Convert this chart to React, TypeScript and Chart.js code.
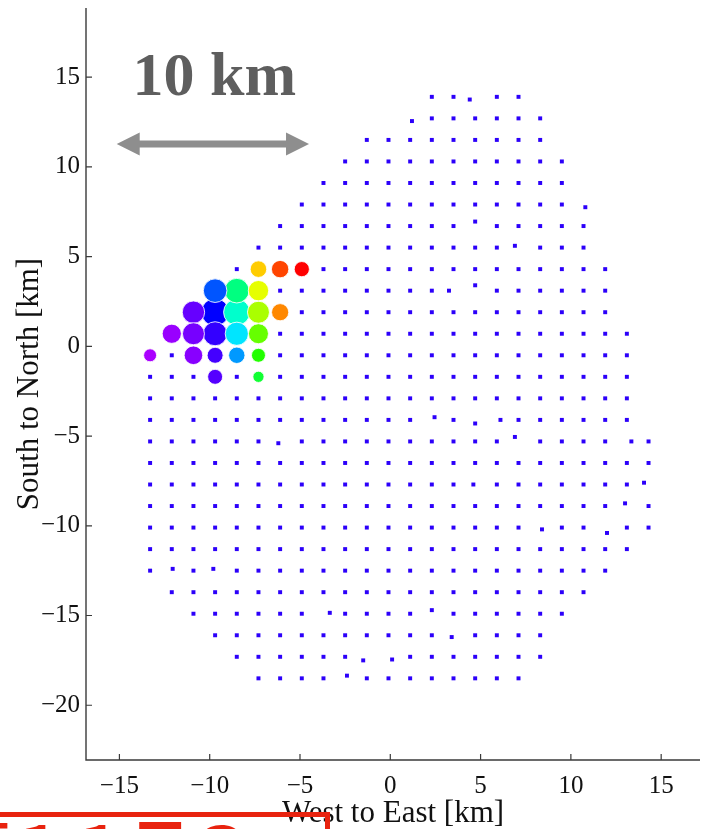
import React, { useEffect, useRef } from "react";
import { Chart, registerables } from "chart.js";

Chart.register(...registerables);

// ---------- axes ----------
const xTickValues = [-15, -10, -5, 0, 5, 10, 15];
const yTickValues = [-20, -15, -10, -5, 0, 5, 10, 15];
const xLimits = [-16.85, 17.15];
const yLimits = [-23.05, 18.85];
const xTitle = "West to East [km]";
const yTitle = "South to North [km]";

// ---------- station grid (small blue markers), one list per row ----------
const stationRowY = [
  13.9, 12.7, 11.5, 10.3, 9.1, 7.9, 6.7, 5.5, 4.3, 3.1, 1.9, 0.7, -0.5, -1.7, -2.9,
  -4.1, -5.3, -6.5, -7.7, -8.9, -10.1, -11.3, -12.5, -13.7, -14.9, -16.1, -17.3, -18.5,
];
const stationRowX = [
  [2.3, 3.5, 5.9, 7.1],
  [2.3, 3.5, 4.7, 5.9, 7.1, 8.3],
  [-1.3, -0.1, 1.1, 2.3, 3.5, 4.7, 5.9, 7.1, 8.3],
  [-2.5, -1.3, -0.1, 1.1, 2.3, 3.5, 4.7, 5.9, 7.1, 8.3, 9.5],
  [-3.7, -2.5, -1.3, -0.1, 1.1, 2.3, 3.5, 4.7, 5.9, 7.1, 8.3, 9.5],
  [-4.9, -3.7, -2.5, -1.3, -0.1, 1.1, 2.3, 3.5, 4.7, 5.9, 7.1, 8.3, 9.5],
  [-6.1, -4.9, -3.7, -2.5, -1.3, -0.1, 1.1, 2.3, 3.5, 5.9, 7.1, 8.3, 9.5, 10.7],
  [-7.3, -6.1, -4.9, -3.7, -2.5, -1.3, -0.1, 1.1, 2.3, 3.5, 4.7, 5.9, 8.3, 9.5, 10.7],
  [-8.5, -3.7, -2.5, -1.3, -0.1, 1.1, 2.3, 3.5, 4.7, 5.9, 7.1, 8.3, 9.5, 10.7, 11.9],
  [-6.1, -4.9, -3.7, -2.5, -1.3, -0.1, 1.1, 2.3, 5.9, 7.1, 8.3, 9.5, 10.7, 11.9],
  [-4.9, -3.7, -2.5, -1.3, -0.1, 1.1, 2.3, 3.5, 4.7, 5.9, 7.1, 8.3, 9.5, 10.7, 11.9],
  [-6.1, -4.9, -3.7, -2.5, -1.3, -0.1, 1.1, 2.3, 3.5, 4.7, 5.9, 7.1, 8.3, 9.5, 10.7, 11.9, 13.1],
  [-12.1, -6.1, -4.9, -3.7, -2.5, -1.3, -0.1, 1.1, 2.3, 3.5, 4.7, 5.9, 7.1, 8.3, 9.5, 10.7, 11.9, 13.1],
  [-13.3, -12.1, -10.9, -8.5, -6.1, -4.9, -3.7, -2.5, -1.3, -0.1, 1.1, 2.3, 3.5, 4.7, 5.9, 7.1, 8.3, 9.5, 10.7, 11.9, 13.1],
  [-13.3, -12.1, -10.9, -9.7, -8.5, -7.3, -6.1, -4.9, -3.7, -2.5, -1.3, -0.1, 1.1, 2.3, 3.5, 4.7, 5.9, 7.1, 8.3, 9.5, 10.7, 11.9, 13.1],
  [-13.3, -12.1, -10.9, -9.7, -8.5, -7.3, -6.1, -4.9, -3.7, -2.5, -1.3, -0.1, 1.1, 3.5, 7.1, 8.3, 9.5, 10.7, 11.9, 13.1],
  [-13.3, -12.1, -10.9, -9.7, -8.5, -7.3, -4.9, -3.7, -2.5, -1.3, -0.1, 1.1, 2.3, 3.5, 4.7, 5.9, 8.3, 9.5, 10.7, 11.9, 14.3],
  [-13.3, -12.1, -10.9, -9.7, -8.5, -7.3, -6.1, -4.9, -3.7, -2.5, -1.3, -0.1, 1.1, 2.3, 3.5, 4.7, 5.9, 7.1, 8.3, 9.5, 10.7, 11.9, 13.1, 14.3],
  [-13.3, -12.1, -10.9, -9.7, -8.5, -7.3, -6.1, -4.9, -3.7, -2.5, -1.3, -0.1, 1.1, 2.3, 3.5, 5.9, 7.1, 8.3, 9.5, 10.7, 11.9, 13.1],
  [-13.3, -12.1, -10.9, -9.7, -8.5, -7.3, -6.1, -4.9, -3.7, -2.5, -1.3, -0.1, 1.1, 2.3, 3.5, 4.7, 5.9, 7.1, 8.3, 9.5, 10.7, 11.9, 14.3],
  [-13.3, -12.1, -10.9, -9.7, -8.5, -7.3, -6.1, -4.9, -3.7, -2.5, -1.3, -0.1, 1.1, 2.3, 3.5, 4.7, 5.9, 7.1, 9.5, 10.7, 13.1, 14.3],
  [-13.3, -12.1, -10.9, -9.7, -8.5, -7.3, -6.1, -4.9, -3.7, -2.5, -1.3, -0.1, 1.1, 2.3, 3.5, 4.7, 5.9, 7.1, 8.3, 9.5, 10.7, 11.9, 13.1],
  [-13.3, -10.9, -8.5, -7.3, -6.1, -4.9, -3.7, -2.5, -1.3, -0.1, 1.1, 2.3, 3.5, 4.7, 5.9, 7.1, 8.3, 9.5, 10.7, 11.9],
  [-12.1, -10.9, -9.7, -8.5, -7.3, -6.1, -4.9, -3.7, -2.5, -1.3, -0.1, 1.1, 2.3, 3.5, 4.7, 5.9, 7.1, 8.3, 9.5, 10.7],
  [-10.9, -9.7, -8.5, -7.3, -6.1, -4.9, -2.5, -1.3, -0.1, 1.1, 3.5, 4.7, 5.9, 7.1, 8.3, 9.5],
  [-9.7, -8.5, -7.3, -6.1, -4.9, -3.7, -2.5, -1.3, -0.1, 1.1, 2.3, 4.7, 5.9, 7.1, 8.3],
  [-8.5, -7.3, -6.1, -4.9, -3.7, -2.5, 1.1, 2.3, 3.5, 4.7, 5.9, 7.1, 8.3],
  [-7.3, -6.1, -4.9, -3.7, -1.3, -0.1, 1.1, 2.3, 3.5, 4.7, 5.9, 7.1],
];
// stations slightly off the regular grid
const stationExtraX = [4.4, 1.2, 10.8, 4.7, 6.9, 3.25, 4.7, 2.45, 4.7, 6.1, -6.2, 6.9, 13.35, 4.6, 14.05, 13.0, 8.4, 12.0, -12.05, -9.8, -3.35, 2.3, 3.4, -1.5, 0.1, -2.4];
const stationExtraY = [13.75, 12.55, 7.75, 6.95, 5.6, 3.1, 3.4, -3.95, -4.3, -4.1, -5.4, -5.05, -5.3, -7.7, -7.6, -8.75, -10.2, -10.4, -12.4, -12.4, -14.85, -14.7, -16.2, -17.5, -17.45, -18.35];

// ---------- coloured bubbles ----------
const bubbleX = [-7.3, -6.1, -4.9, -9.7, -8.5, -7.3, -10.9, -9.7, -8.5, -7.3, -6.1, -12.1, -10.9, -9.7, -8.5, -7.3, -13.3, -10.9, -9.7, -8.5, -7.3, -9.7, -7.3];
const bubbleY = [4.3, 4.3, 4.3, 3.1, 3.1, 3.1, 1.9, 1.9, 1.9, 1.9, 1.9, 0.7, 0.7, 0.7, 0.7, 0.7, -0.5, -0.5, -0.5, -0.5, -0.5, -1.7, -1.7];
const bubbleSize = [8.3, 8.7, 7.6, 11.8, 12.3, 10.2, 11.2, 13.8, 13.2, 11.0, 8.6, 9.6, 11.0, 12.0, 11.6, 10.0, 6.5, 9.3, 8.0, 8.2, 7.0, 7.5, 5.6];
const bubbleColor = [
  "#FFCC00", "#FF4400", "#FF0000", "#0055FF", "#00FF80", "#E6FF00", "#6600FF", "#0000FF",
  "#00FFCC", "#AAFF00", "#FF8800", "#9900FF", "#7700FF", "#3300FF", "#00E5FF", "#66FF00",
  "#AA00FF", "#8800FF", "#4400FF", "#0099FF", "#22FF00", "#5500FF", "#11FF33",
];

// ---------- scale bar annotation ----------
const scaleBarLabel = "10 km";
const scaleBarFromX = -15.15;
const scaleBarToX = -4.5;
const scaleBarY = 11.27;
const scaleBarLabelX = -9.75;
const scaleBarLabelY = 14.0;

const bannerText = "第１１日の";

const SERIF = "'Liberation Serif', 'Times New Roman', serif";

const fmt = (v: number) => (v < 0 ? "\u2212" + Math.abs(v) : String(v));

const overlayPlugin = {
  id: "overlay",
  afterDraw(chart: any) {
    const { ctx, chartArea, scales } = chart;
    const xs = scales.x;
    const ys = scales.y;
    ctx.save();
    // axis lines
    ctx.strokeStyle = "#3a3a3a";
    ctx.lineWidth = 1.4;
    ctx.beginPath();
    ctx.moveTo(chartArea.left, chartArea.top);
    ctx.lineTo(chartArea.left, chartArea.bottom);
    ctx.lineTo(chartArea.right, chartArea.bottom);
    ctx.stroke();
    // inward ticks
    ctx.lineWidth = 1.2;
    ctx.beginPath();
    xTickValues.forEach((v) => {
      const px = xs.getPixelForValue(v);
      ctx.moveTo(px, chartArea.bottom);
      ctx.lineTo(px, chartArea.bottom - 6);
    });
    yTickValues.forEach((v) => {
      const py = ys.getPixelForValue(v);
      ctx.moveTo(chartArea.left, py);
      ctx.lineTo(chartArea.left + 6, py);
    });
    ctx.stroke();

    // double arrow
    const x1 = xs.getPixelForValue(scaleBarFromX);
    const x2 = xs.getPixelForValue(scaleBarToX);
    const yy = ys.getPixelForValue(scaleBarY);
    const head = 23;
    const hh = 11.5;
    const sh = 3.5;
    ctx.fillStyle = "#8e8e8e";
    ctx.beginPath();
    ctx.moveTo(x1, yy);
    ctx.lineTo(x1 + head, yy - hh);
    ctx.lineTo(x1 + head, yy - sh);
    ctx.lineTo(x2 - head, yy - sh);
    ctx.lineTo(x2 - head, yy - hh);
    ctx.lineTo(x2, yy);
    ctx.lineTo(x2 - head, yy + hh);
    ctx.lineTo(x2 - head, yy + sh);
    ctx.lineTo(x1 + head, yy + sh);
    ctx.lineTo(x1 + head, yy + hh);
    ctx.closePath();
    ctx.fill();

    // label
    ctx.fillStyle = "#5e5e5e";
    ctx.font = "bold 62px " + SERIF;
    ctx.textAlign = "center";
    ctx.textBaseline = "alphabetic";
    ctx.fillText(scaleBarLabel, xs.getPixelForValue(scaleBarLabelX), ys.getPixelForValue(scaleBarLabelY));
    ctx.restore();
  },
};

export default function App() {
  const canvasRef = useRef<HTMLCanvasElement | null>(null);

  useEffect(() => {
    const canvas = canvasRef.current;
    if (!canvas) return;

    const stationPoints: { x: number; y: number }[] = [];
    stationRowY.forEach((y, i) => {
      stationRowX[i].forEach((x) => stationPoints.push({ x, y }));
    });
    stationExtraX.forEach((x, i) => stationPoints.push({ x, y: stationExtraY[i] }));

    const order = bubbleSize.map((_, i) => i).sort((a, b) => bubbleSize[b] - bubbleSize[a]);
    const bubblePoints = order.map((i) => ({ x: bubbleX[i], y: bubbleY[i], r: bubbleSize[i] }));
    const bubbleColors = order.map((i) => bubbleColor[i]);

    const chart = new Chart(canvas, {
      type: "scatter",
      data: {
        datasets: [
          {
            type: "scatter",
            data: stationPoints,
            pointStyle: "rect",
            pointRadius: 2.8,
            backgroundColor: "rgb(44,0,250)",
            borderWidth: 0,
          } as any,
          {
            type: "bubble",
            data: bubblePoints,
            backgroundColor: bubbleColors,
            borderColor: "rgba(255,255,255,0.85)",
            borderWidth: 1,
          } as any,
        ],
      },
      options: {
        animation: false,
        responsive: false,
        devicePixelRatio: 1,
        events: [],
        layout: { autoPadding: false, padding: { top: 8, right: 3, left: 0, bottom: 0 } },
        plugins: { legend: { display: false }, tooltip: { enabled: false } },
        scales: {
          x: {
            type: "linear",
            min: xLimits[0],
            max: xLimits[1],
            grid: { display: false, drawTicks: false },
            border: { display: false },
            afterBuildTicks: (s: any) => {
              s.ticks = xTickValues.map((v) => ({ value: v }));
            },
            afterFit: (s: any) => {
              s.height = 69;
              s.paddingLeft = 0;
              s.paddingRight = 0;
            },
            ticks: {
              padding: 11,
              color: "#111",
              font: { family: SERIF, size: 25 },
              maxRotation: 0,
              autoSkip: false,
              callback: (v: any) => fmt(Number(v)),
            },
            title: {
              display: true,
              text: xTitle,
              color: "#111",
              font: { family: SERIF, size: 31, lineHeight: 1 },
              padding: { top: 0, bottom: 0 },
            },
          },
          y: {
            type: "linear",
            min: yLimits[0],
            max: yLimits[1],
            grid: { display: false, drawTicks: false },
            border: { display: false },
            afterBuildTicks: (s: any) => {
              s.ticks = yTickValues.map((v) => ({ value: v }));
            },
            afterFit: (s: any) => {
              s.width = 86;
              s.paddingTop = 0;
              s.paddingBottom = 0;
            },
            ticks: {
              padding: 6,
              color: "#111",
              font: { family: SERIF, size: 25 },
              autoSkip: false,
              callback: (v: any) => fmt(Number(v)),
            },
            title: {
              display: true,
              text: yTitle,
              color: "#111",
              font: { family: SERIF, size: 31, lineHeight: 1 },
              padding: { top: 14, bottom: 0 },
            },
          },
        },
      },
      plugins: [overlayPlugin],
    });

    return () => chart.destroy();
  }, []);

  return (
    <div
      style={{
        position: "absolute",
        left: 0,
        top: 0,
        width: 703,
        height: 829,
        overflow: "hidden",
        background: "#fff",
      }}
    >
      <canvas ref={canvasRef} width={703} height={829} style={{ display: "block" }} />
      <div
        style={{
          position: "absolute",
          left: -10,
          top: 812,
          width: 335,
          height: 100,
          borderTop: "5px solid #e8230f",
          borderRight: "5px solid #e8230f",
        }}
      />
      <div
        style={{
          position: "absolute",
          left: -50,
          top: 814,
          fontFamily: "'Noto Sans CJK JP', sans-serif",
          fontWeight: 700,
          fontSize: 60,
          lineHeight: "60px",
          color: "#e8230f",
          whiteSpace: "nowrap",
        }}
      >
        {bannerText}
      </div>
    </div>
  );
}
